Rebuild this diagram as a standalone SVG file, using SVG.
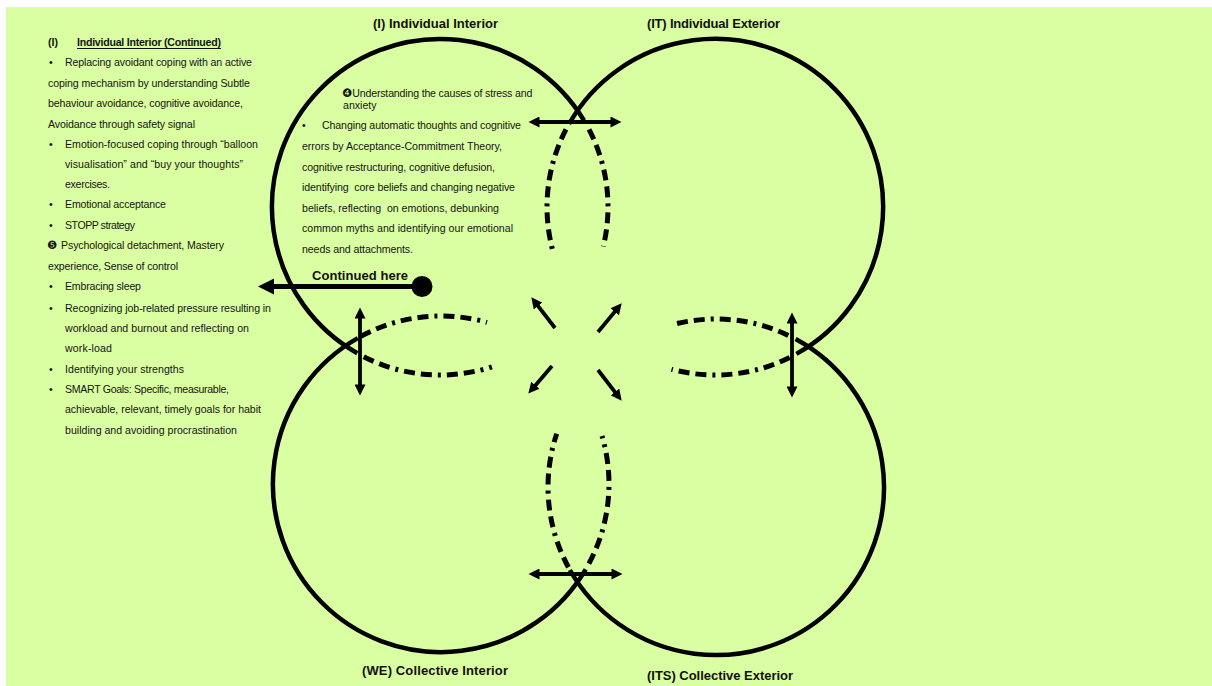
<svg xmlns="http://www.w3.org/2000/svg" width="1212" height="686" viewBox="0 0 1212 686">
  <style>
    .arc { fill: none; stroke: #000; stroke-width: 4.5; stroke-linecap: butt; }
    .dash { fill: none; stroke: #000; stroke-width: 5; stroke-dasharray: 11 6 11 6 3 6; }
    .arr { stroke: #000; stroke-width: 3.8; fill: none; }
    .body { font-family: "Liberation Sans", Arial, sans-serif; font-size: 10.6px; fill: #141414; }
    .head { font-family: "Liberation Sans", Arial, sans-serif; font-size: 13px; font-weight: bold; fill: #111; }
    .sym { font-family: "DejaVu Sans", sans-serif; font-size: 11.5px; }
  </style>
  <defs>
    <marker id="tip" viewBox="0 0 12 12" refX="6" refY="6" markerWidth="12" markerHeight="11" orient="auto-start-reverse" markerUnits="userSpaceOnUse">
      <path d="M0,0 L12,6 L0,12 Z" fill="#000"/>
    </marker>
    <marker id="tipSmall" viewBox="0 0 12 12" refX="6" refY="6" markerWidth="11" markerHeight="11" orient="auto" markerUnits="userSpaceOnUse">
      <path d="M0,0 L12,6 L0,12 Z" fill="#000"/>
    </marker>
    <marker id="tipBig" viewBox="0 0 12 12" refX="6" refY="6" markerWidth="16" markerHeight="17" orient="auto" markerUnits="userSpaceOnUse">
      <path d="M0,0 L12,6 L0,12 Z" fill="#000"/>
    </marker>
  </defs>

  <!-- page background -->
  <rect x="6" y="7" width="1206" height="679" fill="#dafea2"/>

  <!-- four overlapping circles: outer arcs solid, inner arcs dashed -->
  <g id="quadrant-I">
    <path class="arc" d="M357.3,353.2 A168,168 0 1 1 584.0,120.5"/>
    <path class="dash" d="M589.0,129.4 A168,168 0 0 1 603.3,246.5"/>
    <path class="dash" d="M363.7,356.7 A168,168 0 0 0 491.9,366.8"/>
    <text class="head" x="373" y="28" textLength="125">(I) Individual Interior</text>
    <text class="body" x="342" y="97"><tspan class="sym">❹</tspan><tspan textLength="180">Understanding the causes of stress and</tspan></text>
    <text class="body" x="343" y="109">anxiety</text>
    <text class="body" x="302" y="129">•</text>
    <text class="body" x="322" y="129" textLength="199">Changing automatic thoughts and cognitive</text>
    <text class="body" x="302" y="150" textLength="200">errors by Acceptance-Commitment Theory,</text>
    <text class="body" x="302" y="171" textLength="193">cognitive restructuring, cognitive defusion,</text>
    <text class="body" x="302" y="191" textLength="213" xml:space="preserve">identifying  core beliefs and changing negative</text>
    <text class="body" x="302" y="212" textLength="197" xml:space="preserve">beliefs, reflecting  on emotions, debunking</text>
    <text class="body" x="302" y="232" textLength="211">common myths and identifying our emotional</text>
    <text class="body" x="302" y="253" textLength="111">needs and attachments.</text>
  </g>

  <g id="quadrant-IT">
    <path class="arc" d="M569.1,123.8 A168,168 0 1 1 796.4,353.9"/>
    <path class="dash" d="M566.0,129.4 A168,168 0 0 0 552.3,248.8"/>
    <path class="dash" d="M789.7,357.5 A168,168 0 0 1 671.5,369.3"/>
    <text class="head" x="647" y="28" textLength="133">(IT) Individual Exterior</text>
  </g>

  <g id="quadrant-WE">
    <path class="arc" d="M585.7,569.3 A168,168 0 1 1 357.8,338.1"/>
    <path class="dash" d="M360.8,336.4 A168,168 0 0 1 487.0,322.4"/>
    <path class="dash" d="M588.9,563.6 A168,168 0 0 0 602.0,436.0"/>
    <text class="head" x="362" y="675" textLength="146">(WE) Collective Interior</text>
  </g>

  <g id="quadrant-ITS">
    <path class="arc" d="M795.6,339.1 A168,168 0 1 1 569.9,570.0"/>
    <path class="dash" d="M788.3,335.4 A168,168 0 0 0 672.5,324.7"/>
    <path class="dash" d="M568.4,567.2 A168,168 0 0 1 556.7,433.7"/>
    <text class="head" x="647" y="680" textLength="146">(ITS) Collective Exterior</text>
  </g>

  <!-- side panel continuing the Individual Interior list -->
  <g id="continued-list">
    <text class="body" x="48" y="46" font-weight="bold">(I)</text>
    <text class="body" x="77" y="46" font-weight="bold" textLength="144">Individual Interior (Continued)</text>
    <line x1="77" y1="48.5" x2="221" y2="48.5" stroke="#141414" stroke-width="1"/>
    <text class="body" x="49" y="66">•</text>
    <text class="body" x="65" y="66" textLength="187">Replacing avoidant coping with an active</text>
    <text class="body" x="48" y="87" textLength="202">coping mechanism by understanding Subtle</text>
    <text class="body" x="48" y="107" textLength="195">behaviour avoidance, cognitive avoidance,</text>
    <text class="body" x="48" y="128" textLength="147">Avoidance through safety signal</text>
    <text class="body" x="49" y="148">•</text>
    <text class="body" x="65" y="148" textLength="193">Emotion-focused coping through “balloon</text>
    <text class="body" x="65" y="168" textLength="178">visualisation” and “buy your thoughts”</text>
    <text class="body" x="65" y="188" textLength="45">exercises.</text>
    <text class="body" x="49" y="208">•</text>
    <text class="body" x="65" y="208" textLength="101">Emotional acceptance</text>
    <text class="body" x="49" y="229">•</text>
    <text class="body" x="65" y="229" textLength="70">STOPP strategy</text>
    <text class="body" x="47" y="249"><tspan class="sym">❺</tspan></text>
    <text class="body" x="61" y="249" textLength="163">Psychological detachment, Mastery</text>
    <text class="body" x="48" y="270" textLength="130">experience, Sense of control</text>
    <text class="body" x="49" y="290">•</text>
    <text class="body" x="65" y="290" textLength="76">Embracing sleep</text>
    <text class="body" x="49" y="312">•</text>
    <text class="body" x="65" y="312" textLength="206">Recognizing job-related pressure resulting in</text>
    <text class="body" x="65" y="332" textLength="184">workload and burnout and reflecting on</text>
    <text class="body" x="65" y="352" textLength="47">work-load</text>
    <text class="body" x="49" y="373">•</text>
    <text class="body" x="65" y="373" textLength="119">Identifying your strengths</text>
    <text class="body" x="49" y="393">•</text>
    <text class="body" x="65" y="393" textLength="164">SMART Goals: Specific, measurable,</text>
    <text class="body" x="65" y="413" textLength="196">achievable, relevant, timely goals for habit</text>
    <text class="body" x="65" y="434" textLength="172">building and avoiding procrastination</text>
  </g>

  <!-- arrows -->
  <g id="connectors">
    <line class="arr" x1="534" y1="122" x2="616" y2="122" marker-start="url(#tip)" marker-end="url(#tip)"/>
    <line class="arr" x1="534" y1="574" x2="617" y2="574" marker-start="url(#tip)" marker-end="url(#tip)"/>
    <line class="arr" x1="360" y1="313" x2="360" y2="390" marker-start="url(#tip)" marker-end="url(#tip)"/>
    <line class="arr" x1="792" y1="318" x2="792" y2="392" marker-start="url(#tip)" marker-end="url(#tip)"/>

    <line class="arr" x1="555" y1="328" x2="534.7" y2="301.7" marker-end="url(#tipSmall)"/>
    <line class="arr" x1="598" y1="332" x2="618.2" y2="307.6" marker-end="url(#tipSmall)"/>
    <line class="arr" x1="552" y1="366" x2="531.9" y2="389.4" marker-end="url(#tipSmall)"/>
    <line class="arr" x1="598" y1="370" x2="618.3" y2="396.3" marker-end="url(#tipSmall)"/>

    <line x1="422" y1="286.5" x2="266" y2="286.5" stroke="#000" stroke-width="4.8" marker-end="url(#tipBig)"/>
    <circle cx="422" cy="286.5" r="10.5" fill="#000"/>
    <text class="head" x="312" y="280" font-size="14" textLength="96">Continued here</text>
  </g>
</svg>
